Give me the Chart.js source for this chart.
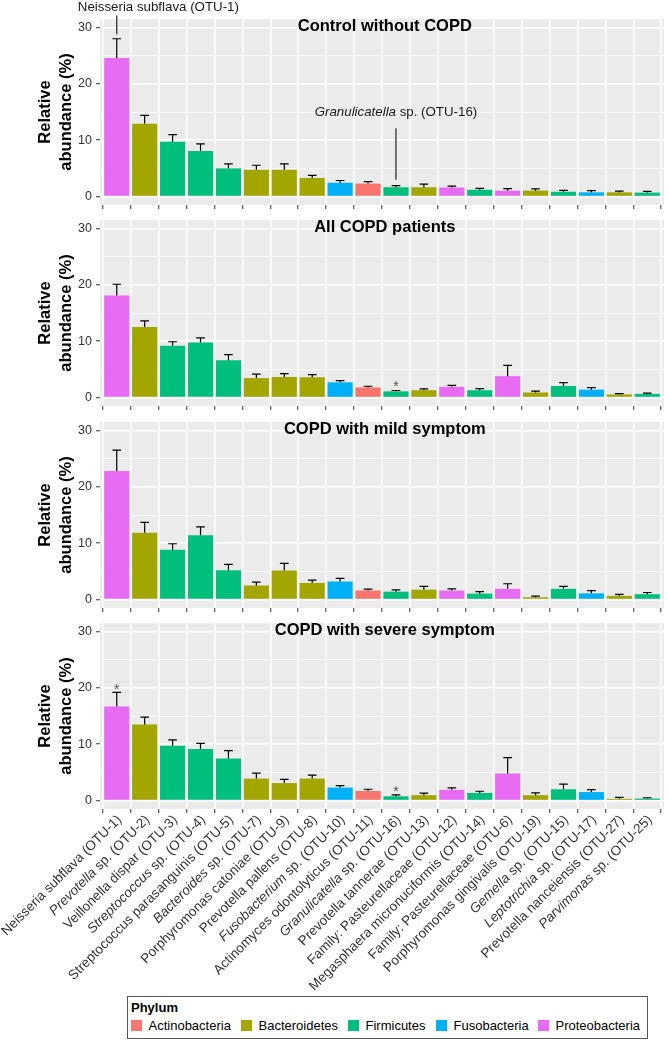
<!DOCTYPE html>
<html><head><meta charset="utf-8">
<script src="https://cdn.jsdelivr.net/npm/chart.js@4.4.1/dist/chart.umd.min.js"></script>
<style>
html,body{margin:0;padding:0;background:#fff;}
body{width:668px;height:1040px;position:relative;overflow:hidden;font-family:"Liberation Sans",Arial,sans-serif;}
canvas{position:absolute;left:0;}
#legend{position:absolute;left:127px;top:996px;width:521px;height:43px;border:1px solid #555;box-sizing:border-box;background:#fff;}
#legend .ttl{position:absolute;left:3px;top:3px;font-weight:bold;font-size:13px;line-height:15px;color:#000;}
#legend .key{position:absolute;top:23px;width:11px;height:11px;}
#legend .lab{position:absolute;top:21px;font-size:13px;line-height:15px;color:#000;white-space:nowrap;}
</style></head>
<body>
<canvas id="p0"></canvas>
<canvas id="p1"></canvas>
<canvas id="p2"></canvas>
<canvas id="p3"></canvas>
<div id="legend"></div>
<script>
// ---------- data ----------
const categories = [
  "Neisseria subflava (OTU-1)", "*Prevotella* sp. (OTU-2)", "Veillonella dispar (OTU-3)",
  "*Streptococcus* sp. (OTU-4)", "Streptococcus parasanguinis (OTU-5)", "*Bacteroides* sp. (OTU-7)",
  "Porphyromonas catoniae (OTU-9)", "Prevotella pallens (OTU-8)", "*Fusobacterium* sp. (OTU-10)",
  "Actinomyces odontolyticus (OTU-11)", "*Granulicatella* sp. (OTU-16)", "Prevotella tannerae (OTU-13)",
  "Family: Pasteurellaceae (OTU-12)", "Megasphaera micronuciformis (OTU-14)", "Family: Pasteurellaceae (OTU-6)",
  "Porphyromonas gingivalis (OTU-19)", "*Gemella* sp. (OTU-15)", "*Leptotrichia* sp. (OTU-17)",
  "Prevotella nanceiensis (OTU-27)", "*Parvimonas* sp. (OTU-25)"
];
const barPhylum = [
  "Proteobacteria","Bacteroidetes","Firmicutes","Firmicutes","Firmicutes","Bacteroidetes",
  "Bacteroidetes","Bacteroidetes","Fusobacteria","Actinobacteria","Firmicutes","Bacteroidetes",
  "Proteobacteria","Firmicutes","Proteobacteria","Bacteroidetes","Firmicutes","Fusobacteria",
  "Bacteroidetes","Firmicutes"
];
const phylumNames = ["Actinobacteria","Bacteroidetes","Firmicutes","Fusobacteria","Proteobacteria"];
const phylumColors = ["#F8766D","#A3A500","#00BF7D","#00B0F6","#E76BF3"];
const panelTitles = ["Control without COPD","All COPD patients","COPD with mild symptom","COPD with severe symptom"];
const yTickValues = [0,10,20,30];
const yMinorValues = [5,15,25];

const meanControl = [24.6,12.9,9.7,8.1,5.0,4.75,4.75,3.3,2.45,2.3,1.65,1.65,1.6,1.2,1.05,1.05,0.85,0.75,0.75,0.7];
const seControl   = [3.4,1.5,1.3,1.25,0.8,0.8,1.05,0.45,0.4,0.35,0.3,0.55,0.25,0.25,0.35,0.3,0.25,0.3,0.2,0.2];
const meanAllCOPD = [18.1,12.5,9.2,9.75,6.6,3.45,3.65,3.6,2.7,1.8,1.1,1.3,1.9,1.3,3.8,0.9,2.05,1.4,0.55,0.65];
const seAllCOPD   = [2.0,1.1,0.7,0.85,1.0,0.7,0.6,0.45,0.3,0.2,0.15,0.25,0.25,0.3,1.9,0.25,0.6,0.35,0.15,0.15];
const meanMild    = [22.8,11.85,8.85,11.4,5.2,2.5,5.15,2.95,3.2,1.6,1.4,1.75,1.6,1.05,1.9,0.4,1.9,1.1,0.65,0.95];
const seMild      = [3.7,1.85,1.05,1.5,1.05,0.6,1.25,0.5,0.55,0.25,0.3,0.6,0.3,0.35,0.9,0.2,0.45,0.5,0.25,0.3];
const meanSevere  = [16.7,13.5,9.7,9.15,7.45,3.9,3.1,3.9,2.3,1.7,0.75,0.95,1.9,1.35,4.8,0.95,2.0,1.5,0.3,0.35];
const seSevere    = [2.5,1.3,1.05,1.0,1.4,0.95,0.65,0.6,0.35,0.3,0.25,0.35,0.35,0.3,2.8,0.4,0.9,0.45,0.25,0.15];

// significance stars: [panel, category index, y]
const stars = [[1,10,2.5],[3,0,20.3],[3,10,2.3]];

// ---------- helpers ----------
const FAMILY = '"Liberation Sans", Arial, sans-serif';
Chart.defaults.font.family = FAMILY;

function parseRich(s){
  const parts=[]; const re=/\*([^*]+)\*|([^*]+)/g; let m;
  while((m=re.exec(s))){ if(m[1]) parts.push({t:m[1],it:true}); else parts.push({t:m[2],it:false}); }
  return parts;
}
function drawRich(ctx, s, size, align){
  const parts=parseRich(s);
  const fonts=parts.map(p=>(p.it?'italic ':'')+size+'px '+FAMILY);
  let total=0;
  const ws=parts.map((p,i)=>{ctx.font=fonts[i]; const w=ctx.measureText(p.t).width; total+=w; return w;});
  let x = align==='right' ? -total : (align==='center' ? -total/2 : 0);
  ctx.textAlign='left';
  parts.forEach((p,i)=>{ctx.font=fonts[i]; ctx.fillText(p.t,x,0); x+=ws[i];});
}

const PLOT_H = 186, PAD_TOP = 19;
const canvasTops = [0,201,403,604];

function makePanel(idx, means, ses, annotate){
  const last = idx===3;
  const bottomH = last ? (1040 - canvasTops[idx] - PAD_TOP - PLOT_H) : 15;
  const cv = document.getElementById('p'+idx);
  const H = PAD_TOP + PLOT_H + bottomH;
  cv.width = 668; cv.height = H;
  cv.style.width='668px'; cv.style.height=H+'px'; cv.style.top=canvasTops[idx]+'px';

  const colors = barPhylum.map(p=>phylumColors[phylumNames.indexOf(p)]);

  const panelPlugin = {
    id:'panel'+idx,
    beforeDraw(chart){
      const {ctx, chartArea:a} = chart;
      ctx.save(); ctx.fillStyle='#EBEBEB'; ctx.fillRect(a.left,a.top,a.right-a.left,a.bottom-a.top); ctx.restore();
    },
    afterDatasetsDraw(chart){
      const {ctx, scales:{x,y}} = chart;
      const ds = chart.data.datasets[0];
      const meta = chart.getDatasetMeta(0);
      const hw = (x.getPixelForValue(1)-x.getPixelForValue(0))*0.155;
      ctx.save(); ctx.strokeStyle='#000'; ctx.lineWidth=1.2;
      meta.data.forEach((el,i)=>{
        const m = ds.data[i].y, e = ds.errors[i];
        const y0=y.getPixelForValue(m), y1=y.getPixelForValue(m+e);
        ctx.beginPath(); ctx.moveTo(el.x,y0); ctx.lineTo(el.x,y1);
        ctx.moveTo(el.x-hw,y1); ctx.lineTo(el.x+hw,y1); ctx.stroke();
      });
      ctx.restore();
    },
    afterDraw(chart){
      const {ctx, chartArea:a, scales:{x,y}} = chart;
      ctx.save();
      // panel title
      ctx.fillStyle='#000'; ctx.font='bold 16.5px '+FAMILY; ctx.textAlign='center'; ctx.textBaseline='middle';
      ctx.fillText(panelTitles[idx], x.getPixelForValue(9.6), y.getPixelForValue(30)-1);
      // y axis title
      const midY=(a.top+a.bottom)/2;
      ctx.save(); ctx.translate(45,midY); ctx.rotate(-Math.PI/2); ctx.fillText('Relative',0,0); ctx.restore();
      ctx.save(); ctx.translate(66,midY); ctx.rotate(-Math.PI/2); ctx.fillText('abundance (%)',0,0); ctx.restore();
      // stars
      ctx.fillStyle='#555'; ctx.font='14px '+FAMILY; ctx.textAlign='center'; ctx.textBaseline='alphabetic';
      stars.filter(s=>s[0]===idx).forEach(s=>{
        ctx.fillText('*', x.getPixelForValue(s[1]), y.getPixelForValue(s[2])+8);
      });
      if(annotate) annotate(ctx,x,y);
      // x tick labels (bottom panel only)
      if(last){
        ctx.fillStyle='#333'; ctx.textBaseline='top';
        categories.forEach((c,i)=>{
          ctx.save();
          ctx.translate(x.getPixelForValue(i)-2, a.bottom+4);
          ctx.rotate(-Math.PI/4);
          drawRich(ctx,c,13.5,'right');
          ctx.restore();
        });
      }
      ctx.restore();
    }
  };

  return new Chart(cv, {
    type:'bar',
    data:{ datasets:[{
      data: means.map((v,i)=>({x:i,y:v})),
      errors: ses,
      backgroundColor: colors,
      borderWidth:0,
      barPercentage:0.9, categoryPercentage:1.0
    }]},
    options:{
      responsive:false, animation:false, devicePixelRatio:1,
      layout:{padding:{top:PAD_TOP,right:4,left:0,bottom:0}},
      plugins:{legend:{display:false},tooltip:{enabled:false}},
      scales:{
        x:{
          type:'linear', min:-0.6, max:19.6, offset:false,
          afterBuildTicks:(s)=>{ s.ticks = categories.map((c,i)=>({value:i})); },
          afterFit:(s)=>{ s.height = bottomH; },
          ticks:{display:false},
          grid:{color:'#FFFFFF', lineWidth:1.5, drawTicks:true, tickLength:4, tickColor:'#333', tickWidth:1},
          border:{display:false}
        },
        y:{
          type:'linear', min:-1.5, max:31.5,
          afterBuildTicks:(s)=>{ s.ticks = [0,5,10,15,20,25,30].map(v=>({value:v})); },
          afterFit:(s)=>{ s.width = 100; },
          ticks:{
            color:'#333', font:{size:12.5}, padding:4,
            callback:(v)=> yTickValues.includes(v) ? String(v) : ''
          },
          grid:{
            color:'#FFFFFF',
            lineWidth:(c)=> yMinorValues.includes(c.tick.value) ? 0.75 : 1.5,
            drawTicks:true, tickLength:4, tickWidth:1,
            tickColor:(c)=> yMinorValues.includes(c.tick.value) ? 'rgba(0,0,0,0)' : '#333'
          },
          border:{display:false}
        }
      }
    },
    plugins:[panelPlugin]
  });
}

makePanel(0, meanControl, seControl, (ctx,x,y)=>{
  ctx.strokeStyle='#222'; ctx.lineWidth=1.2;
  ctx.beginPath(); ctx.moveTo(x.getPixelForValue(0), y.getPixelForValue(28.8)); ctx.lineTo(x.getPixelForValue(0), y.getPixelForValue(32.1)); ctx.stroke();
  ctx.fillStyle='#1a1a1a'; ctx.textBaseline='middle';
  ctx.save(); ctx.translate(x.getPixelForValue(1.49), y.getPixelForValue(33.5)); drawRich(ctx,'Neisseria subflava (OTU-1)',13.3,'center'); ctx.restore();
  ctx.beginPath(); ctx.moveTo(x.getPixelForValue(10), y.getPixelForValue(12.1)); ctx.lineTo(x.getPixelForValue(10), y.getPixelForValue(3.0)); ctx.stroke();
  ctx.save(); ctx.translate(x.getPixelForValue(10), y.getPixelForValue(14.9)); drawRich(ctx,'*Granulicatella* sp. (OTU-16)',13.3,'center'); ctx.restore();
});
makePanel(1, meanAllCOPD, seAllCOPD);
makePanel(2, meanMild, seMild);
makePanel(3, meanSevere, seSevere);

// ---------- legend ----------
const legendKeyX = [4,114,221,309,411];
const lg = document.getElementById('legend');
const t = document.createElement('div'); t.className='ttl'; t.textContent='Phylum'; lg.appendChild(t);
phylumNames.forEach((n,i)=>{
  const k=document.createElement('div'); k.className='key'; k.style.left=(legendKeyX[i]-1)+'px'; k.style.background=phylumColors[i]; lg.appendChild(k);
  const l=document.createElement('div'); l.className='lab'; l.style.left=(legendKeyX[i]+16.5)+'px'; l.textContent=n; lg.appendChild(l);
});
</script>
</body></html>
